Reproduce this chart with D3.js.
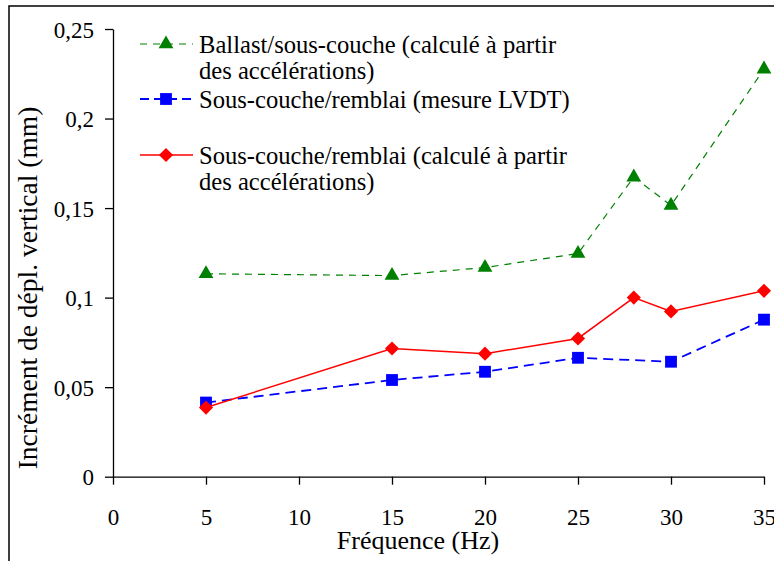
<!DOCTYPE html>
<html>
<head>
<meta charset="utf-8">
<script src="https://cdn.jsdelivr.net/npm/d3@7"></script>
<style>
  body { margin: 0; background: #fff; }
</style>
</head>
<body>
<div id="chart"></div>
<script>
// data
const freqs = [5, 15, 20, 25, 28, 30, 35];
const ballast = [0.1133, 0.1123, 0.1168, 0.1246, 0.1673, 0.1515, 0.2276];
const lvdtFreqs = [5, 15, 20, 25, 30, 35];
const lvdt = [0.0414, 0.054, 0.0586, 0.0664, 0.0642, 0.0877];
const remblai = [0.0386, 0.0716, 0.0687, 0.0772, 0.100, 0.0923, 0.1038];
const xTicks = [0, 5, 10, 15, 20, 25, 30, 35];
const yTicks = [0, 0.05, 0.1, 0.15, 0.2, 0.25];

const FONT = "'Liberation Serif', 'Times New Roman', serif";

chart();

function chart() {
    let margin = { top: 29, right: 9, bottom: 85, left: 113 },
        width = 774 - margin.left - margin.right,
        height = 561 - margin.top - margin.bottom;

    let root = d3.select("#chart").append("svg")
        .attr("width", 774)
        .attr("height", 561);

    // outer frame of the figure
    root.append("rect")
        .attr("x", 9).attr("y", 6)
        .attr("width", 800).attr("height", 600)
        .attr("fill", "none")
        .attr("stroke", "#000")
        .attr("stroke-width", 1.5);

    let svg = root.append("g")
        .attr("transform", "translate(" + margin.left + "," + margin.top + ")");

    let x = d3.scaleLinear().domain([0, 35]).range([0, 651]);
    let y = d3.scaleLinear().domain([0, 0.25]).range([height + 0.7, 0]);

    let fmt = d => String(+d.toFixed(2)).replace(".", ",");

    // y axis
    let yAxis = svg.append("g")
        .call(d3.axisLeft(y).tickValues(yTicks).tickSize(8).tickPadding(11).tickFormat(fmt).tickSizeOuter(0));
    yAxis.selectAll("text").style("font-family", FONT).style("font-size", "23px").attr("dy", "0.36em").attr("fill", "#000");

    // x axis
    let xAxis = svg.append("g")
        .attr("transform", "translate(0," + y(0) + ")")
        .call(d3.axisBottom(x).tickValues(xTicks).tickSize(8).tickPadding(24).tickSizeOuter(0));
    xAxis.selectAll("text").style("font-family", FONT).style("font-size", "23px").attr("dy", "0.71em").attr("fill", "#000");
    svg.selectAll(".domain, .tick line").attr("stroke", "#000").attr("stroke-width", 1.3);

    // axis titles
    root.append("text")
        .attr("x", 418).attr("y", 549)
        .style("text-anchor", "middle")
        .style("font-family", FONT)
        .style("font-size", "26px")
        .text("Fréquence (Hz)");

    root.append("text")
        .attr("transform", "translate(37,288) rotate(-90)")
        .style("text-anchor", "middle")
        .style("font-family", FONT)
        .style("font-size", "27.5px")
        .text("Incrément de dépl. vertical (mm)");

    let line = d3.line().x(d => x(d[0])).y(d => y(d[1]));

    // diamonds are squares turned by 45 degrees
    let series = [
        { pts: d3.zip(freqs, ballast), color: "#008000", width: 1.2, dash: "7,6", shape: d3.symbolTriangle, size: 95, rot: 0 },
        { pts: d3.zip(lvdtFreqs, lvdt), color: "#0000ff", width: 1.8, dash: "10,6", shape: d3.symbolSquare, size: 140, rot: 0 },
        { pts: d3.zip(freqs, remblai), color: "#ff0000", width: 1.5, dash: null, shape: d3.symbolSquare, size: 100, rot: 45 }
    ];

    series.forEach(s => {
        svg.append("path")
            .datum(s.pts)
            .attr("d", line)
            .attr("fill", "none")
            .attr("stroke", s.color)
            .attr("stroke-width", s.width)
            .attr("stroke-dasharray", s.dash);

        svg.selectAll()
            .data(s.pts)
            .enter()
            .append("path")
            .attr("d", d3.symbol().type(s.shape).size(s.size))
            .attr("transform", d => "translate(" + x(d[0]) + "," + y(d[1]) + ") rotate(" + s.rot + ")")
            .attr("fill", s.color);
    });

    // legend
    let legend = [
        { lines: ["Ballast/sous-couche (calculé à partir", "des accélérations)"], y: 44 },
        { lines: ["Sous-couche/remblai (mesure LVDT)"], y: 99 },
        { lines: ["Sous-couche/remblai (calculé à partir", "des accélérations)"], y: 155 }
    ];

    legend.forEach((l, i) => {
        let s = series[i];
        let g = root.append("g").attr("transform", "translate(0," + l.y + ")");
        g.append("line")
            .attr("x1", 140).attr("x2", 193)
            .attr("stroke", s.color)
            .attr("stroke-width", s.width)
            .attr("stroke-dasharray", s.dash ? (i == 0 ? "7,6" : "9,5") : null);
        g.append("path")
            .attr("d", d3.symbol().type(s.shape).size(s.size))
            .attr("transform", "translate(166,0) rotate(" + s.rot + ")")
            .attr("fill", s.color);
        l.lines.forEach((t, j) => {
            g.append("text")
                .attr("x", 199)
                .attr("y", 9 + j * 26)
                .style("font-family", FONT)
                .style("font-size", "24.6px")
                .text(t);
        });
    });
}
</script>
</body>
</html>
